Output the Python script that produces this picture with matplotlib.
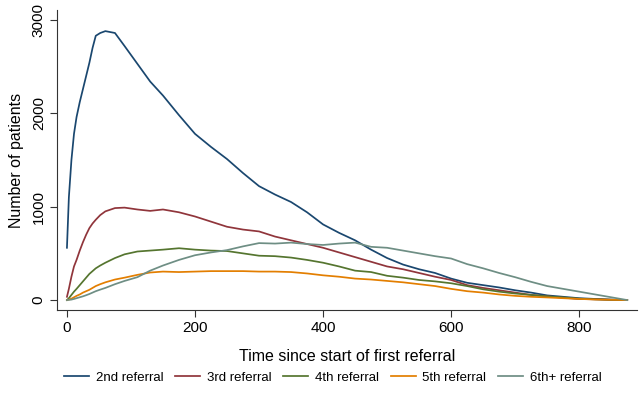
import matplotlib
matplotlib.use("Agg")
import matplotlib.pyplot as plt

plt.rcParams['font.family'] = ['Liberation Sans', 'DejaVu Sans']

# days since start of first referral
days = [0, 3, 7, 11, 15, 20, 25, 30, 35, 40, 45, 52, 60, 75, 90, 110, 130, 150,
        175, 200, 225, 250, 275, 300, 325, 350, 375, 400, 425, 450, 475, 500,
        525, 550, 575, 600, 625, 650, 675, 700, 725, 750, 775, 800, 825, 850, 875]

ref2 = [560, 1100, 1500, 1780, 1960, 2120, 2260, 2400, 2540, 2700, 2830, 2860,
        2880, 2860, 2720, 2530, 2340, 2190, 1980, 1780, 1640, 1510, 1360, 1220,
        1130, 1050, 940, 810, 720, 640, 540, 450, 380, 330, 290, 230, 185, 160,
        135, 105, 80, 50, 35, 20, 12, 5, 0]
ref3 = [35, 120, 250, 360, 430, 530, 620, 700, 770, 820, 860, 910, 950, 985,
        990, 970, 955, 970, 940, 895, 840, 785, 755, 735, 680, 640, 600, 560,
        510, 460, 410, 360, 330, 290, 250, 215, 160, 130, 105, 80, 55, 40, 25,
        12, 8, 3, 0]
ref4 = [0, 20, 55, 90, 120, 160, 200, 240, 280, 310, 340, 370, 400, 450, 490,
        520, 530, 540, 555, 540, 530, 525, 500, 475, 470, 455, 430, 400, 360,
        315, 300, 260, 240, 215, 200, 180, 150, 115, 90, 70, 55, 40, 28, 15, 8,
        3, 0]
ref5 = [0, 5, 15, 30, 45, 60, 80, 95, 110, 130, 150, 170, 190, 220, 240, 270,
        295, 305, 300, 305, 310, 310, 310, 305, 305, 300, 285, 265, 250, 230,
        220, 205, 190, 170, 150, 120, 95, 80, 60, 45, 35, 28, 20, 12, 6, 3, 0]
ref6 = [0, 2, 5, 12, 20, 30, 40, 52, 65, 80, 95, 112, 130, 170, 205, 245, 315,
        370, 430, 480, 510, 535, 575, 610, 605, 615, 600, 590, 605, 615, 570,
        560, 530, 500, 470, 445, 385, 340, 290, 245, 195, 150, 120, 90, 60, 30, 0]

labels = ['2nd referral', '3rd referral', '4th referral', '5th referral', '6th+ referral']
colors = ['#1a476f', '#90353b', '#55752f', '#e37e00', '#6e8e84']

fig = plt.figure(figsize=(6.4, 3.97), dpi=100)
ax = fig.add_axes([0.089, 0.219, 0.906, 0.756])

for ys, lab, col in zip([ref2, ref3, ref4, ref5, ref6], labels, colors):
    ax.plot(days, ys, color=col, linewidth=1.25, label=lab)

ax.set_xlim(-15.6, 890)
ax.set_ylim(-107, 3107)
ax.set_xticks([0, 200, 400, 600, 800])
ax.set_yticks([0, 1000, 2000, 3000])
ax.set_yticklabels(['0', '1000', '2000', '3000'], rotation=90, va='center')
ax.tick_params(labelsize=11, length=5, width=0.8, color='#333333', pad=3)

for side in ['top', 'right']:
    ax.spines[side].set_visible(False)
for side in ['left', 'bottom']:
    ax.spines[side].set_color('#333333')
    ax.spines[side].set_linewidth(0.8)

ax.set_xlabel('Time since start of first referral', fontsize=11.5, labelpad=10)
ax.set_ylabel('Number of patients', fontsize=11.5, labelpad=6)

fig.legend(loc='center', bbox_to_anchor=(0.52, 0.048), ncol=5, frameon=False,
           fontsize=9.5, handlelength=1.9, columnspacing=0.9, handletextpad=0.5)

fig.savefig('out.png', dpi=100)
